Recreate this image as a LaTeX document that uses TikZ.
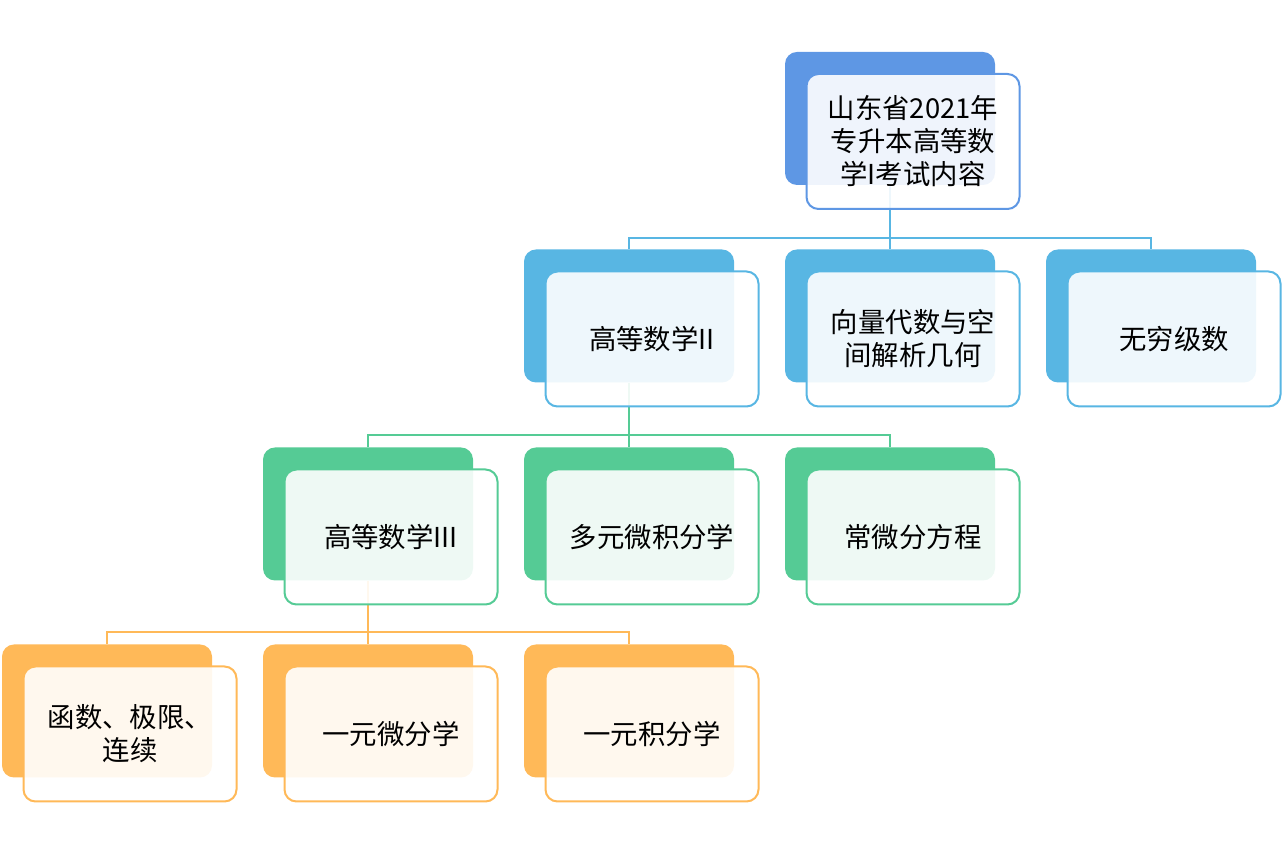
\documentclass[tikz,border=0pt]{standalone}
\usepackage{fontspec}
\newfontfamily\cjk{Noto Sans CJK SC}
\definecolor{topblue}{HTML}{5E97E4}
\definecolor{skyblue}{HTML}{58B6E3}
\definecolor{leafgreen}{HTML}{55CB95}
\definecolor{warmorange}{HTML}{FFB958}
\begin{document}
\begin{tikzpicture}[x=0.5pt, y=-0.5pt,
  back/.style = {draw=none, fill=#1, rounded corners=6pt, minimum width=105pt, minimum height=66.5pt},
  front/.style = {draw=#1, line width=1pt, fill=white, fill opacity=0.9, text opacity=1, rounded corners=6pt, minimum width=106.5pt, minimum height=67.5pt, align=center, font=\cjk\fontsize{13.7}{16.5}\selectfont},
  link/.style = {draw=#1, line width=1pt}]
\useasboundingbox (0,0) rectangle (1282,854);

\node[back=topblue] (b0) at (890,118.5) {};
\node[back=skyblue] (b1) at (629,316) {};
\node[back=skyblue] (b2) at (890,316) {};
\node[back=skyblue] (b3) at (1151,316) {};
\node[back=leafgreen] (b4) at (368,514) {};
\node[back=leafgreen] (b5) at (629,514) {};
\node[back=leafgreen] (b6) at (890,514) {};
\node[back=warmorange] (b7) at (107,711) {};
\node[back=warmorange] (b8) at (368,711) {};
\node[back=warmorange] (b9) at (629,711) {};

\coordinate (j0) at (890,238);
\coordinate (j1) at (629,435);
\coordinate (j2) at (368,632);

\draw[link=skyblue] (b0.south) -- (j0);
\draw[link=skyblue] (j0) -| (b1.north);
\draw[link=skyblue] (j0) -- (b2.north);
\draw[link=skyblue] (j0) -| (b3.north);

\draw[link=leafgreen] (b1.south) -- (j1);
\draw[link=leafgreen] (j1) -| (b4.north);
\draw[link=leafgreen] (j1) -- (b5.north);
\draw[link=leafgreen] (j1) -| (b6.north);

\draw[link=warmorange] (b4.south) -- (j2);
\draw[link=warmorange] (j2) -| (b7.north);
\draw[link=warmorange] (j2) -- (b8.north);
\draw[link=warmorange] (j2) -| (b9.north);

\node[front=topblue] (f0) at ([shift={(23,23)}]b0.center) {山东省2021年\\专升本高等数\\学I考试内容};
\node[front=skyblue] (f1) at ([shift={(23,23)}]b1.center) {高等数学II};
\node[front=skyblue] (f2) at ([shift={(23,23)}]b2.center) {向量代数与空\\间解析几何};
\node[front=skyblue] (f3) at ([shift={(23,23)}]b3.center) {无穷级数};
\node[front=leafgreen] (f4) at ([shift={(23,23)}]b4.center) {高等数学III};
\node[front=leafgreen] (f5) at ([shift={(23,23)}]b5.center) {多元微积分学};
\node[front=leafgreen] (f6) at ([shift={(23,23)}]b6.center) {常微分方程};
\node[front=warmorange] (f7) at ([shift={(23,23)}]b7.center) {函数、极限、\\连续};
\node[front=warmorange] (f8) at ([shift={(23,23)}]b8.center) {一元微分学};
\node[front=warmorange] (f9) at ([shift={(23,23)}]b9.center) {一元积分学};

\end{tikzpicture}
\end{document}
